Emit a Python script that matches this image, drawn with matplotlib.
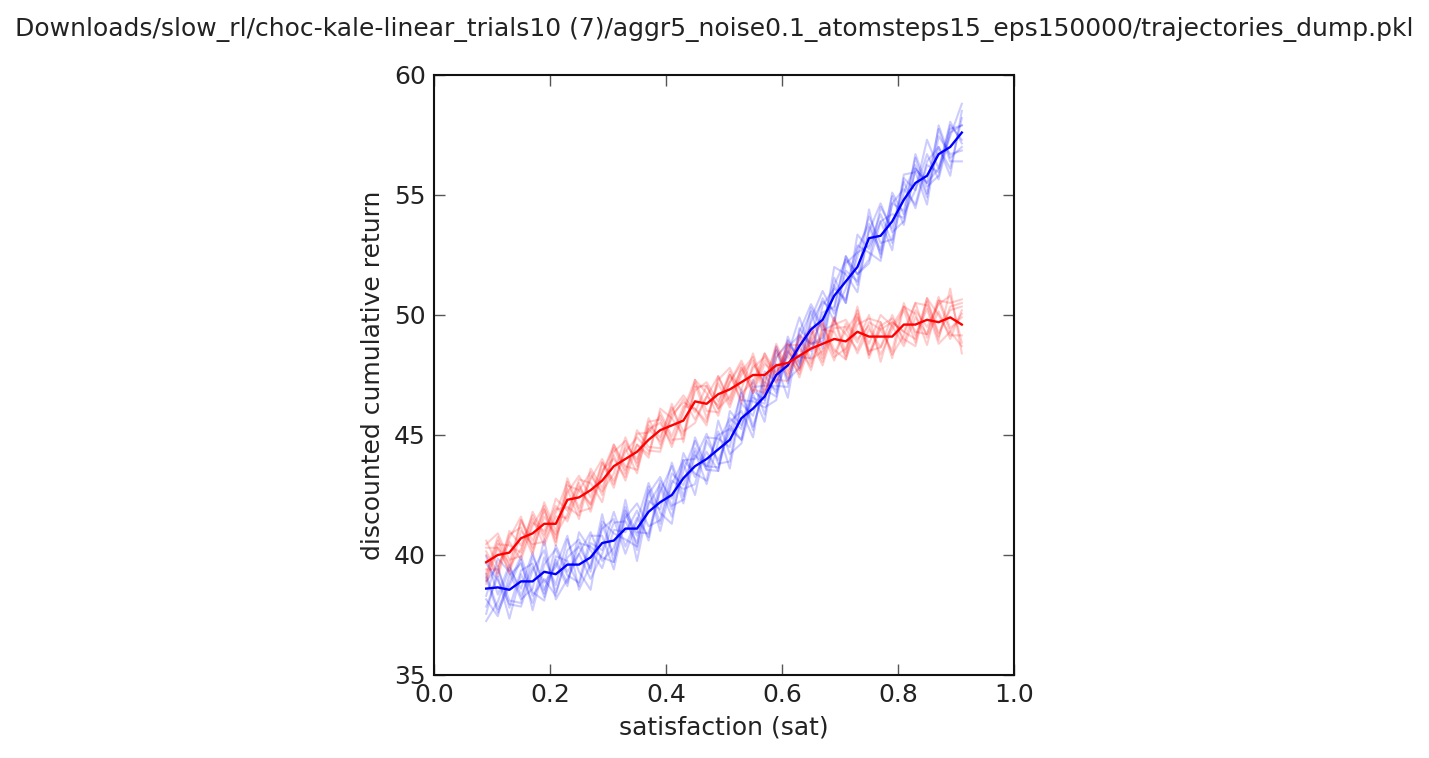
import numpy as np
import matplotlib
matplotlib.use("Agg")
import matplotlib.pyplot as plt

title = ("Downloads/slow_rl/choc-kale-linear_trials10 (7)/"
         "aggr5_noise0.1_atomsteps15_eps150000/trajectories_dump.pkl")

# satisfaction grid (0.09 .. 0.91, step 0.02)
sat = [0.09, 0.11, 0.13, 0.15, 0.17, 0.19, 0.21, 0.23, 0.25, 0.27,
       0.29, 0.31, 0.33, 0.35, 0.37, 0.39, 0.41, 0.43, 0.45, 0.47,
       0.49, 0.51, 0.53, 0.55, 0.57, 0.59, 0.61, 0.63, 0.65, 0.67,
       0.69, 0.71, 0.73, 0.75, 0.77, 0.79, 0.81, 0.83, 0.85, 0.87,
       0.89, 0.91]

blue_mean = [38.6, 38.65, 38.55, 38.9, 38.9, 39.3, 39.2, 39.6, 39.6, 39.9,
             40.5, 40.6, 41.1, 41.1, 41.8, 42.2, 42.5, 43.2, 43.7, 44.0,
             44.4, 44.8, 45.7, 46.1, 46.6, 47.5, 47.9, 48.7, 49.4, 49.8,
             50.8, 51.4, 52.0, 53.2, 53.3, 53.9, 54.8, 55.5, 55.8, 56.7,
             57.0, 57.6]

red_mean = [39.7, 40.0, 40.1, 40.7, 40.9, 41.3, 41.3, 42.3, 42.4, 42.7,
            43.1, 43.7, 44.0, 44.3, 44.8, 45.2, 45.4, 45.6, 46.4, 46.3,
            46.7, 46.9, 47.2, 47.5, 47.5, 47.9, 48.0, 48.3, 48.6, 48.8,
            49.0, 48.9, 49.3, 49.1, 49.1, 49.1, 49.6, 49.6, 49.8, 49.7,
            49.9, 49.6]

# per-trial offsets from the mean (estimated from the faint lines)
DEV_UNIT = 0.15
blue_dev = [
    [-5, 3, -8, 2, -6, 4, -3, 7, -2, -9, 5, -4, 8, -6, 3, -2, 9, -5, 4, -7, 2,
     6, -3, 8, -5, 3, -9, 4, 7, -2, 5, -6, 9, -3, 4, -8, 6, -2, 10, -4, 3, 8],
    [4, -6, 2, 7, -3, -8, 5, 1, -6, 4, -2, 8, -5, 3, -7, 6, -1, 4, -8, 5, -3,
     2, 7, -6, 4, -4, 8, -5, -2, 6, -7, 3, -4, 8, -6, 5, -3, 7, -5, 2, -6, 4],
    [-9, -4, 6, -2, 8, -5, 3, -6, 9, 2, -7, 3, -1, 5, -8, 4, -6, 2, 7, -3, 5,
     -8, 4, -2, 6, -5, 3, 8, -6, 2, -3, 7, -5, 2, 9, -3, -6, 4, -2, 7, -4, -8],
    [7, 2, -4, -7, 3, 6, -5, 2, 5, -3, 8, -6, 4, -2, 6, -8, 3, 5, -2, -6, 8,
     -4, -7, 3, -2, 7, -5, 2, 5, -8, 3, 6, -2, -7, 4, 2, -5, 8, -3, -6, 5, 2],
    [-2, 8, 5, -5, -2, 9, -7, -4, 3, 7, -5, -2, 6, -9, 2, 5, -4, 7, -3, 2, -6,
     5, 2, -8, 7, -2, 4, -6, 3, 8, -5, -2, 6, -4, -7, 5, 3, -6, 4, 2, -8, 6],
    [3, -7, 1, 6, -8, 2, 7, -3, -5, 6, 2, -8, 3, 7, -4, -5, 6, -2, 5, -3, -6,
     8, -2, 4, -7, 5, 6, -3, -8, 4, 2, -5, 3, 6, -2, -5, 7, 3, -8, 5, -2, -5],
    [-7, 5, -3, -6, 7, -3, 2, 8, -7, -2, 4, 6, -7, 2, 8, -3, -8, 5, 2, 7, -4,
     -6, 5, 2, -3, -7, 5, 3, -4, -5, 8, 2, -7, 3, -5, 8, -4, -2, 6, -7, 4, 2],
    [9, -2, 7, -4, 4, -6, 8, -2, 3, -6, -3, 5, 2, -4, 5, 7, -3, -6, 8, -2, 4,
     3, -6, 5, -1, 8, -4, -6, 2, 5, -4, 7, -2, -6, 8, -2, 5, -7, 3, -5, 7, -3],
    [-3, -8, 4, 5, -4, -2, -6, 4, 7, -4, 6, 2, -3, -5, 7, -6, 4, -3, -5, 6, 3,
     -2, 8, -5, 2, -6, 7, -4, 6, -3, -8, 5, 4, -2, 6, -6, 2, 5, -6, 8, -3, -4],
    [2, 6, -5, 3, 5, -7, 4, -5, 6, 3, -4, -6, 5, -1, -6, 3, 8, -7, 3, -2, -5,
     4, -6, 6, 3, -3, -6, 5, -4, -6, 3, -6, 5, 4, -4, 7, -7, 4, -2, -4, 6, -2],
]

red_dev = [
    [3, -5, 6, -2, 5, -4, 7, -3, 4, -6, 2, 5, -4, 6, -2, -5, 4, 7, -3, 5, -4,
     2, 6, -3, 4, -5, 3, -2, 5, -4, 6, -3, 7, -5, 4, -6, 5, 3, -7, 6, 4, 7],
    [-6, 2, -3, 5, -4, 6, -2, 3, -6, 4, -3, -2, 6, -4, 5, 3, -6, 2, 5, -4, 3,
     -5, 2, 4, -3, 6, -2, 5, -4, 3, -6, 5, -3, 6, -7, 4, -2, 6, 4, -5, 8, -8],
    [5, 6, -2, -5, 3, -2, 5, -6, 2, 5, -4, 6, -3, 2, -5, 6, 2, -4, 3, 6, -2,
     4, -5, 2, 5, -3, 4, -6, 2, 6, -3, -5, 4, -2, 6, 3, -6, 2, -4, 7, -3, 2],
    [-2, -4, 5, 3, -6, 4, -5, 2, 6, -2, 5, -4, 3, -6, 4, -2, 5, -3, -6, 2, 5,
     -3, 4, -5, 3, -2, 5, 3, -6, 4, 2, -4, 6, -6, 3, 5, -4, -6, 5, -3, 2, 5],
    [6, -3, 3, -6, 2, 5, -4, 6, -3, 3, 6, -5, 2, 4, -3, -6, 3, 5, -2, -5, 4,
     6, -3, -2, 6, -4, -5, 3, 6, -3, 5, 2, -5, 4, 2, -4, 6, -3, 3, -6, -4, 3],
    [-4, 4, -6, 2, -3, -5, 3, 5, -4, -5, 3, 2, -5, 5, 2, 4, -4, -5, 6, 3, -6,
     2, 5, -4, -5, 2, 6, -4, 3, -5, 4, 6, -2, 3, -5, 2, 4, -5, 6, 2, -5, -3],
    [2, -6, 4, 6, -5, 2, -3, -4, 5, 2, -6, 4, 5, -3, 6, -4, 2, 6, -5, 2, -3,
     5, -6, 3, -2, 5, -3, 2, -5, 5, -4, 3, 5, -4, -3, 6, -5, 4, -2, 5, 6, -5],
    [-5, 3, 2, -4, 6, -3, 4, -2, -5, 6, -2, 3, -6, 2, -4, 5, -3, 4, -2, -6, 5,
     -4, 3, 5, -6, 4, -4, 6, -3, -2, 6, -5, 2, 5, 4, -5, -3, 6, -5, 3, -6, 4],
    [4, 2, -5, 5, -2, 4, -6, 4, 2, -4, 5, -6, 4, -2, 3, -3, 6, -6, 4, 5, -4,
     -2, 4, -5, 6, -2, 2, -5, 4, 6, -5, -2, 4, -5, 2, 4, -2, -4, 6, -4, 3, 6],
    [-3, 5, -4, -3, 4, -6, 2, -5, 3, -4, 2, 6, -2, -5, 3, 2, -5, 3, 6, -2, -5,
     4, -2, 6, -4, -3, 5, -4, 2, -6, 3, 4, -6, 2, -3, 3, 5, -2, -4, 6, -4, -6],
]

plt.rcParams['font.family'] = ['DejaVu Sans']
plt.rcParams['font.size'] = 18

fig = plt.figure(figsize=(14.29, 7.58), dpi=100)
ax = fig.add_axes([0.3037, 0.1095, 0.4059, 0.7916])

sat = np.array(sat)
for dev in blue_dev:
    ax.plot(sat, np.array(blue_mean) + np.array(dev) * DEV_UNIT,
            color='b', alpha=0.2, lw=1.5)
for dev in red_dev:
    ax.plot(sat, np.array(red_mean) + np.array(dev) * DEV_UNIT,
            color='r', alpha=0.2, lw=1.5)
ax.plot(sat, blue_mean, color='b', lw=1.7)
ax.plot(sat, red_mean, color='r', lw=1.7)

ax.set_xlim(0.0, 1.0)
ax.set_ylim(35, 60)
ax.set_xticks([0.0, 0.2, 0.4, 0.6, 0.8, 1.0])
ax.set_yticks([35, 40, 45, 50, 55, 60])
ax.set_xlabel('satisfaction (sat)', color='#222222', labelpad=6)
ax.set_ylabel('discounted cumulative return', color='#222222', labelpad=6)
ax.tick_params(direction='in', length=8, width=1, color='#555555',
               labelcolor='#222222', top=True, right=True, pad=6)
for s in ax.spines.values():
    s.set_linewidth(1.5)
    s.set_color('#111111')

fig.suptitle(title, y=0.977, fontsize=18, color='#222222')

fig.savefig('out.png', dpi=100)
